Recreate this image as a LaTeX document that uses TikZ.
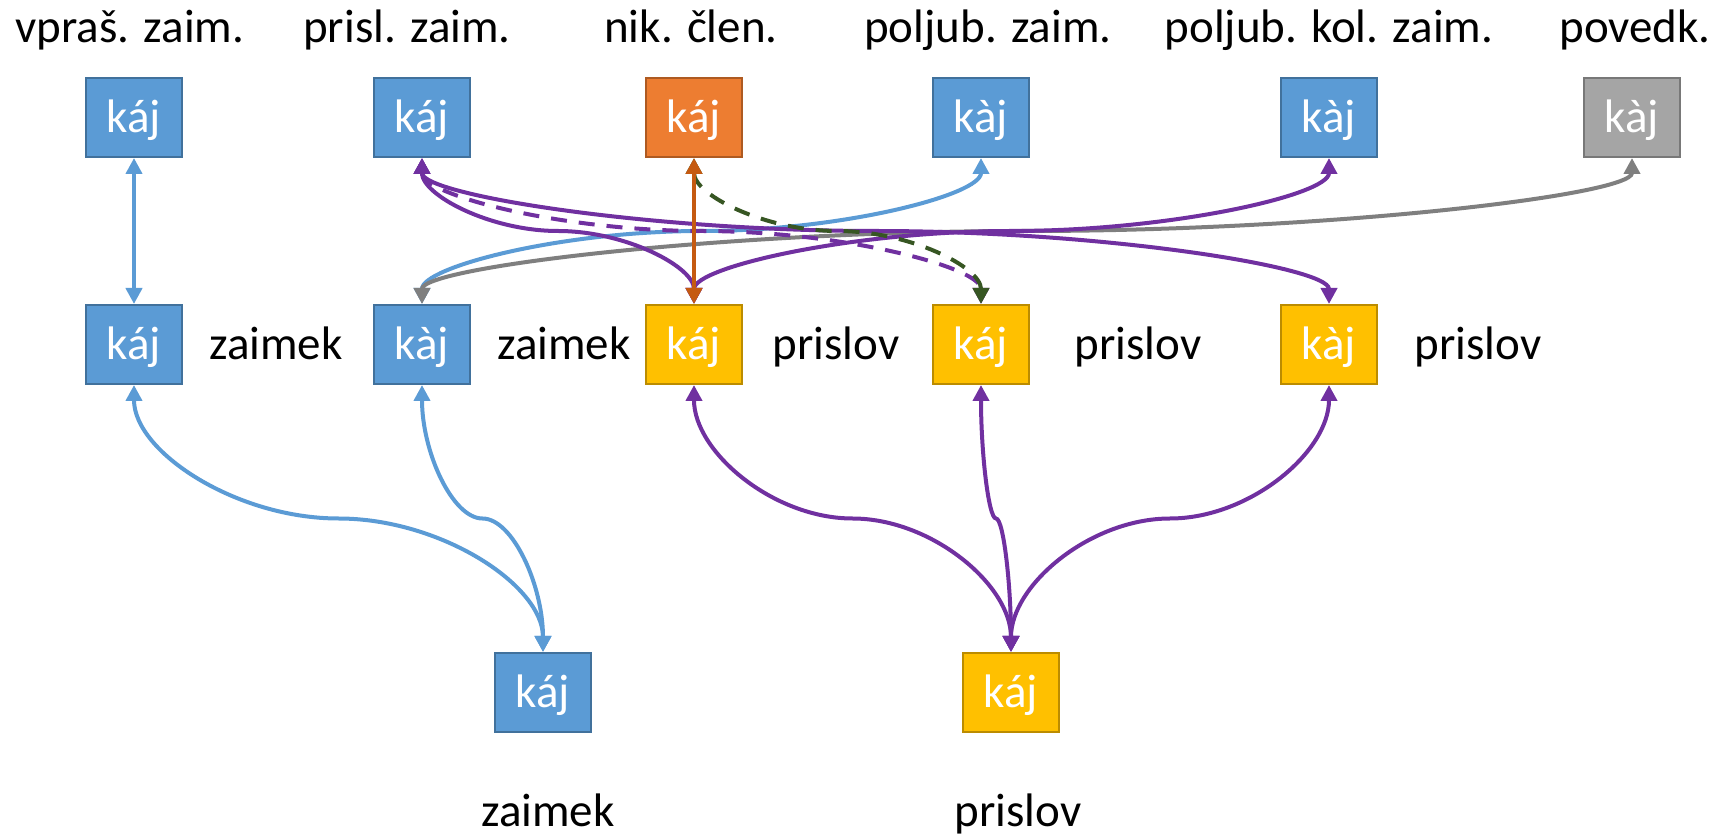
\documentclass[tikz,border=0pt]{standalone}
\usepackage{fontspec}
\setmainfont{Carlito}
\usepackage{tikz}
\usetikzlibrary{ arrows.meta }
\usetikzlibrary{calc}

\definecolor{zaimfill}{HTML}{5B9BD5}
\definecolor{zaimdraw}{HTML}{41719C}
\definecolor{clenfill}{HTML}{ED7D31}
\definecolor{clendraw}{HTML}{AE5A21}
\definecolor{prisfill}{HTML}{FFC000}
\definecolor{prisdraw}{HTML}{BC8C00}
\definecolor{povfill}{HTML}{A5A5A5}
\definecolor{povdraw}{HTML}{787878}
\definecolor{violetline}{HTML}{7030A0}
\definecolor{clenline}{HTML}{C55A11}
\definecolor{greenline}{HTML}{375623}
\definecolor{grayline}{HTML}{7F7F7F}

\tikzset{
  kaj/.style={draw, line width=1pt, minimum width=48pt, minimum height=39.5pt, inner sep=0pt,
    text=white, text height=15.5pt, text depth=0pt, font=\fontsize{23.5}{28}\selectfont},
  zaim/.style={kaj, fill=zaimfill, draw=zaimdraw},
  clen/.style={kaj, fill=clenfill, draw=clendraw},
  pris/.style={kaj, fill=prisfill, draw=prisdraw},
  povedek/.style={kaj, fill=povfill, draw=povdraw},
  lbl/.style={anchor=base, font=\fontsize{23.5}{28}\selectfont},
  link/.style={line width=2pt, {Triangle[length=8pt,width=8pt]}-{Triangle[length=8pt,width=8pt]}},
  dash line/.style={dash pattern=on 8pt off 6pt}
}

\begin{document}
\begin{tikzpicture}[x=0.5pt, y=-0.5pt]
  \useasboundingbox (0,0) rectangle (1721,839);

  \node[lbl] (l1) at (130,43) {vpraš. zaim.};
  \node[lbl] (l2) at (407,43) {prisl. zaim.};
  \node[lbl] (l3) at (691,43) {nik. člen.};
  \node[lbl] (l4) at (988,43) {poljub. zaim.};
  \node[lbl] (l5) at (1329,43) {poljub. kol. zaim.};
  \node[lbl] (l6) at (1635,43) {povedk.};

  \node[zaim] (vpr) at (134,117.5) {káj};
  \node[zaim] (prz) at (422,117.5) {káj};
  \node[clen] (nik) at (694,117.5) {káj};
  \node[zaim] (plz) at (981,117.5) {kàj};
  \node[zaim] (pkz) at (1329,117.5) {kàj};
  \node[povedek] (pov) at (1632,117.5) {kàj};

  \node[zaim] (z1) at (134,344.5) {káj};
  \node[zaim] (z2) at (422,344.5) {kàj};
  \node[pris] (p1) at (694,344.5) {káj};
  \node[pris] (p2) at (981,344.5) {káj};
  \node[pris] (p3) at (1329,344.5) {kàj};

  \node[lbl] (z1l) at (276,360) {zaimek};
  \node[lbl] (z2l) at (564,360) {zaimek};
  \node[lbl] (p1l) at (836,360) {prislov};
  \node[lbl] (p2l) at (1138,360) {prislov};
  \node[lbl] (p3l) at (1478,360) {prislov};

  \node[zaim] (zai) at (543,692.5) {káj};
  \node[pris] (pri) at (1011,692.5) {káj};
  \node[lbl] (zail) at (548,827) {zaimek};
  \node[lbl] (pril) at (1018,827) {prislov};

  \draw[link, zaimfill] (vpr) -- (z1);
  \draw[link, zaimfill] (z2.north) .. controls +(0,-37) and +(-140,0) .. ($(z2.north)!.5!(plz.south)$)
    .. controls +(140,0) and +(0,37) .. (plz.south);
  \draw[link, grayline] (z2.north) .. controls +(0,-37) and +(-302,0) .. ($(z2.north)!.5!(pov.south)$)
    .. controls +(302,0) and +(0,37) .. (pov.south);
  \draw[link, violetline] (prz.south) .. controls +(0,37) and +(-68,0) .. ($(prz.south)!.5!(p1.north)$)
    .. controls +(68,0) and +(0,-37) .. (p1.north);
  \draw[link, violetline] (prz.south) .. controls +(0,37) and +(-227,0) .. ($(prz.south)!.5!(p3.north)$)
    .. controls +(227,0) and +(0,-37) .. (p3.north);
  \draw[link, violetline, dash line] (prz.south) .. controls +(0,37) and +(-140,0) .. ($(prz.south)!.5!(p2.north)$)
    .. controls +(140,0) and +(0,-37) .. (p2.north);
  \draw[link, violetline] (p1.north) .. controls +(0,-37) and +(-159,0) .. ($(p1.north)!.5!(pkz.south)$)
    .. controls +(159,0) and +(0,37) .. (pkz.south);
  \draw[link, greenline, dash line] (nik.south) .. controls +(0,37) and +(-72,0) .. ($(nik.south)!.5!(p2.north)$)
    .. controls +(72,0) and +(0,-37) .. (p2.north);
  \draw[link, clenline] (nik) -- (p1);

  \draw[link, zaimfill] (z1.south) .. controls +(0,67) and +(-102,0) .. ($(z1.south)!.5!(zai.north)$)
    .. controls +(102,0) and +(0,-67) .. (zai.north);
  \draw[link, zaimfill] (z2.south) .. controls +(0,67) and +(-30,0) .. ($(z2.south)!.5!(zai.north)$)
    .. controls +(30,0) and +(0,-67) .. (zai.north);
  \draw[link, violetline] (p1.south) .. controls +(0,67) and +(-79,0) .. ($(p1.south)!.5!(pri.north)$)
    .. controls +(79,0) and +(0,-67) .. (pri.north);
  \draw[link, violetline] (p2.south) .. controls +(0,67) and +(-7.5,0) .. ($(p2.south)!.5!(pri.north)$)
    .. controls +(7.5,0) and +(0,-67) .. (pri.north);
  \draw[link, violetline] (pri.north) .. controls +(0,-67) and +(-79.5,0) .. ($(pri.north)!.5!(p3.south)$)
    .. controls +(79.5,0) and +(0,67) .. (p3.south);
\end{tikzpicture}
\end{document}
